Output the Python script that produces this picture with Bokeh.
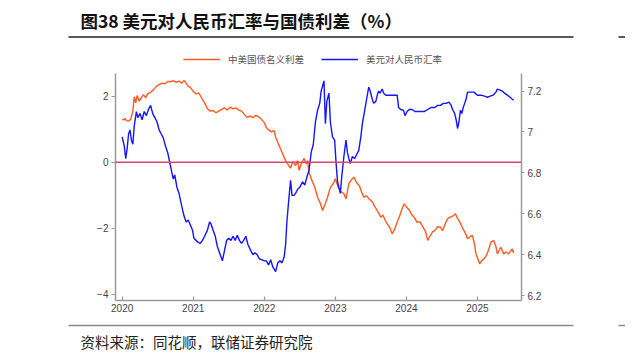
from bokeh.plotting import figure
from bokeh.models import (Range1d, LinearAxis, FixedTicker, Legend, LegendItem, Span)
from bokeh.layouts import column
from bokeh.core.properties import value
from bokeh.embed import file_html
from bokeh.resources import INLINE

# ---------------- data ----------------
title_text = "图38 美元对人民币汇率与国债利差（%）"
source_text = "资料来源：同花顺，联储证券研究院"
series_names = ["中美国债名义利差", "美元对人民币汇率"]
year_ticks = [2020, 2021, 2022, 2023, 2024, 2025]
left_ticks = [-4, -2, 0, 2]
right_ticks = [6.2, 6.4, 6.6, 6.8, 7.0, 7.2]

spread_t = [2020.00, 2020.02, 2020.04, 2020.06, 2020.09, 2020.12, 2020.15, 2020.17, 2020.19, 2020.21,
            2020.24, 2020.27, 2020.30, 2020.33, 2020.36, 2020.40, 2020.44, 2020.48, 2020.52, 2020.56,
            2020.60, 2020.64, 2020.68, 2020.72, 2020.76, 2020.80, 2020.84, 2020.87, 2020.90, 2020.93,
            2020.96, 2021.00, 2021.04, 2021.08, 2021.12, 2021.16, 2021.20, 2021.24, 2021.28, 2021.32,
            2021.36, 2021.40, 2021.44, 2021.48, 2021.52, 2021.56, 2021.60, 2021.64, 2021.68, 2021.72,
            2021.76, 2021.80, 2021.84, 2021.88, 2021.92, 2021.96, 2022.00, 2022.03, 2022.06, 2022.10,
            2022.14, 2022.16, 2022.20, 2022.23, 2022.27, 2022.30, 2022.33, 2022.37, 2022.40, 2022.44,
            2022.47, 2022.49, 2022.52, 2022.56, 2022.59, 2022.61, 2022.63, 2022.67, 2022.71, 2022.75,
            2022.79, 2022.82, 2022.85, 2022.89, 2022.93, 2022.97, 2023.00, 2023.04, 2023.08, 2023.12,
            2023.15, 2023.19, 2023.22, 2023.26, 2023.30, 2023.34, 2023.37, 2023.40, 2023.44, 2023.48,
            2023.52, 2023.56, 2023.60, 2023.64, 2023.67, 2023.70, 2023.74, 2023.77, 2023.80, 2023.83,
            2023.87, 2023.91, 2023.94, 2023.97, 2024.01, 2024.04, 2024.08, 2024.12, 2024.15, 2024.19,
            2024.23, 2024.27, 2024.30, 2024.33, 2024.37, 2024.40, 2024.44, 2024.48, 2024.51, 2024.54,
            2024.57, 2024.60, 2024.64, 2024.67, 2024.69, 2024.72, 2024.75, 2024.78, 2024.81, 2024.84,
            2024.86, 2024.90, 2024.93, 2024.96, 2024.98, 2025.01, 2025.03, 2025.06, 2025.09, 2025.12,
            2025.15, 2025.19, 2025.23, 2025.26, 2025.28, 2025.31, 2025.33, 2025.37, 2025.40, 2025.44,
            2025.47, 2025.49, 2025.51]
spread_v = [1.31, 1.28, 1.33, 1.26, 1.25, 1.30, 1.55, 1.98, 1.80, 2.02,
            1.85, 1.96, 2.05, 1.95, 2.08, 2.12, 2.20, 2.30, 2.35, 2.40,
            2.38, 2.45, 2.44, 2.47, 2.42, 2.46, 2.40, 2.48, 2.40, 2.30,
            2.27, 2.15, 2.07, 2.10, 1.94, 1.80, 1.62, 1.55, 1.57, 1.50,
            1.55, 1.60, 1.65, 1.58, 1.67, 1.62, 1.65, 1.58, 1.55, 1.45,
            1.36, 1.40, 1.35, 1.42, 1.38, 1.30, 1.20, 1.05, 0.98, 0.92,
            0.96, 0.76, 0.55, 0.40, 0.20, 0.05, -0.05, -0.18, 0.02, -0.10,
            0.05, -0.25, -0.05, 0.12, -0.05, 0.05, -0.30, -0.55, -0.75, -1.06,
            -1.25, -1.46, -1.30, -1.06, -0.76, -0.65, -0.50, -0.76, -0.90, -0.95,
            -1.11, -0.65, -0.55, -0.45, -0.62, -0.72, -0.90, -1.06, -1.02, -1.12,
            -1.20, -1.36, -1.50, -1.67, -1.60, -1.75, -1.90, -2.00, -2.17, -2.05,
            -1.82, -1.60, -1.40, -1.26, -1.38, -1.45, -1.60, -1.70, -1.82, -1.80,
            -1.95, -2.10, -2.37, -2.25, -2.10, -2.07, -1.95, -1.97, -2.07, -1.90,
            -1.75, -1.67, -1.65, -1.60, -1.56, -1.70, -1.80, -1.95, -2.07, -2.20,
            -2.32, -2.25, -2.22, -2.50, -2.78, -2.95, -3.08, -2.98, -2.93, -2.85,
            -2.70, -2.42, -2.37, -2.55, -2.78, -2.65, -2.58, -2.78, -2.72, -2.78,
            -2.68, -2.63, -2.76]

fx_t = [2020.00, 2020.03, 2020.05, 2020.07, 2020.09, 2020.11, 2020.13, 2020.15, 2020.17, 2020.20,
        2020.22, 2020.25, 2020.28, 2020.31, 2020.34, 2020.37, 2020.40, 2020.43, 2020.46, 2020.49,
        2020.52, 2020.55, 2020.58, 2020.61, 2020.64, 2020.67, 2020.70, 2020.72, 2020.74, 2020.77,
        2020.80, 2020.82, 2020.85, 2020.87, 2020.90, 2020.93, 2020.96, 2020.99, 2021.01, 2021.04,
        2021.07, 2021.10, 2021.13, 2021.16, 2021.20, 2021.23, 2021.25, 2021.28, 2021.31, 2021.34,
        2021.37, 2021.41, 2021.44, 2021.47, 2021.50, 2021.53, 2021.56, 2021.59, 2021.62, 2021.65,
        2021.68, 2021.71, 2021.74, 2021.77, 2021.81, 2021.84, 2021.87, 2021.90, 2021.93, 2021.97,
        2022.00, 2022.03, 2022.06, 2022.09, 2022.12, 2022.16, 2022.19, 2022.22, 2022.25, 2022.28,
        2022.30, 2022.32, 2022.34, 2022.37, 2022.39, 2022.42, 2022.44, 2022.47, 2022.50, 2022.54,
        2022.57, 2022.60, 2022.63, 2022.66, 2022.69, 2022.72, 2022.75, 2022.78, 2022.80, 2022.84,
        2022.86, 2022.88, 2022.91, 2022.93, 2022.96, 2022.99, 2023.01, 2023.03, 2023.05, 2023.07,
        2023.09, 2023.12, 2023.15, 2023.17, 2023.19, 2023.21, 2023.24, 2023.27, 2023.30, 2023.33,
        2023.36, 2023.38, 2023.41, 2023.43, 2023.45, 2023.47, 2023.49, 2023.52, 2023.54, 2023.57,
        2023.59, 2023.61, 2023.63, 2023.66, 2023.68, 2023.71, 2023.75, 2023.79, 2023.83, 2023.87,
        2023.89, 2023.92, 2023.96, 2023.98, 2024.01, 2024.04, 2024.08, 2024.12, 2024.16, 2024.20,
        2024.25, 2024.30, 2024.35, 2024.40, 2024.44, 2024.48, 2024.52, 2024.56, 2024.60, 2024.63,
        2024.65, 2024.68, 2024.70, 2024.72, 2024.74, 2024.76, 2024.78, 2024.80, 2024.82, 2024.84,
        2024.86, 2024.90, 2024.95, 2025.00, 2025.05, 2025.10, 2025.14, 2025.18, 2025.22, 2025.26,
        2025.28, 2025.32, 2025.35, 2025.38, 2025.42, 2025.46, 2025.49, 2025.51]
fx_v = [6.976, 6.93, 6.87, 6.92, 6.99, 7.01, 6.96, 6.94, 7.03, 7.10,
        7.07, 7.09, 7.06, 7.10, 7.08, 7.11, 7.13, 7.09, 7.07, 7.05,
        7.01, 6.99, 6.97, 6.93, 6.90, 6.85, 6.80, 6.77, 6.79, 6.73,
        6.70, 6.667, 6.62, 6.59, 6.56, 6.57, 6.545, 6.52, 6.48, 6.47,
        6.46, 6.455, 6.47, 6.49, 6.52, 6.56, 6.55, 6.52, 6.49, 6.44,
        6.41, 6.37, 6.42, 6.47, 6.48, 6.47, 6.49, 6.47, 6.495, 6.47,
        6.455, 6.47, 6.49, 6.45, 6.42, 6.40, 6.41, 6.40, 6.38, 6.375,
        6.37, 6.37, 6.35, 6.375, 6.34, 6.317, 6.36, 6.37, 6.36, 6.39,
        6.45, 6.57, 6.65, 6.764, 6.69, 6.69, 6.70, 6.72, 6.73, 6.756,
        6.74, 6.78, 6.813, 6.90, 6.94, 7.05, 7.106, 7.14, 7.20, 7.25,
        7.04, 7.15, 7.19, 7.05, 6.976, 6.96, 6.85, 6.76, 6.73, 6.70,
        6.78, 6.88, 6.96, 6.90, 6.87, 6.846, 6.88, 6.87, 6.89, 6.91,
        6.98, 7.04, 7.10, 7.14, 7.18, 7.22, 7.20, 7.16, 7.14, 7.15,
        7.18, 7.20, 7.19, 7.21, 7.19, 7.18, 7.18, 7.18, 7.18, 7.18,
        7.12, 7.11, 7.106, 7.08, 7.10, 7.11, 7.11, 7.10, 7.10, 7.10,
        7.10, 7.11, 7.12, 7.12, 7.13, 7.13, 7.14, 7.14, 7.146, 7.13,
        7.11, 7.09, 7.06, 7.017, 7.05, 7.106, 7.09, 7.12, 7.14, 7.16,
        7.195, 7.195, 7.195, 7.18, 7.18, 7.175, 7.17, 7.175, 7.18, 7.195,
        7.21, 7.205, 7.20, 7.19, 7.18, 7.17, 7.16, 7.155]

ORANGE = "#ff5a1f"
BLUE = "#1414ff"
AXIS = "#9a9a9a"
W = 625


def blank(height):
    f = figure(width=W, height=height, output_backend="svg", toolbar_location=None,
               x_range=Range1d(0, W), y_range=Range1d(height, 0),
               min_border=0, min_border_left=0, min_border_right=0,
               min_border_top=0, min_border_bottom=0, frame_align=False)
    f.axis.visible = False
    f.grid.visible = False
    f.outline_line_color = None
    f.title.visible = False
    return f


# ---------------- header: title, rule and legend ----------------
HEAD_H = 70
head = blank(HEAD_H)
head.text(x=[80], y=[20], text=[title_text], text_font=value("Noto Sans CJK SC"),
          text_font_style="bold", text_font_size="17.5px", text_color="#111111",
          text_baseline="middle")
head.segment(x0=[68, 618], y0=[36.5, 36.5], x1=[573, W], y1=[36.5, 36.5],
             line_color="#222222", line_width=1.3)
# legend swatch renderers: same styles as the chart series, placed off-canvas
k1 = head.line(x=[-50, -40], y=[-50, -50], line_color=ORANGE, line_width=1.4)
k2 = head.line(x=[-50, -40], y=[-50, -50], line_color=BLUE, line_width=1.4)
legend = Legend(items=[LegendItem(label=series_names[0], renderers=[k1]),
                       LegendItem(label=series_names[1], renderers=[k2])],
                orientation="horizontal", location=(183, 4),
                glyph_width=37, glyph_height=12, label_height=12, label_standoff=8,
                spacing=17, padding=0, margin=0, border_line_color=None,
                background_fill_alpha=0, label_text_font="Noto Sans CJK SC",
                label_text_font_size="9.5px", label_text_color="#555555")
head.add_layout(legend, "center")

# ---------------- main chart ----------------
p = figure(width=W, height=252, output_backend="svg", toolbar_location=None,
           x_range=Range1d(2019.906, 2025.62), y_range=Range1d(-4.19, 2.69),
           min_border_left=115, min_border_right=W - 521, min_border_top=3, min_border_bottom=22,
           frame_align=False)
p.extra_y_ranges = {"fx": Range1d(6.176, 7.286)}
p.outline_line_color = None
p.grid.visible = False
p.title.visible = False

p.add_layout(Span(location=0, dimension="width", line_color="#d9486a", line_width=1.3))

p.line(spread_t, spread_v, line_color=ORANGE, line_width=1.4)
p.line(fx_t, fx_v, line_color=BLUE, line_width=1.4, y_range_name="fx")

xa = p.xaxis[0]
xa.ticker = FixedTicker(ticks=year_ticks)
xa.major_label_overrides = {y: str(y) for y in year_ticks}
ya = p.yaxis[0]
ya.ticker = FixedTicker(ticks=left_ticks)
ya.major_label_overrides = {v: str(v).replace("-", "\u2212") for v in left_ticks}
ra = LinearAxis(y_range_name="fx", ticker=FixedTicker(ticks=right_ticks))
ra.major_label_overrides = {v: ("7" if v == 7.0 else f"{v:.1f}") for v in right_ticks}
p.add_layout(ra, "right")

for ax in (xa, ya, ra):
    ax.axis_line_color = AXIS
    ax.axis_line_width = 1.5
    ax.major_tick_line_color = AXIS
    ax.major_tick_line_width = 1.2
    ax.minor_tick_line_color = None
    ax.major_label_text_color = "#444444"
    ax.major_label_text_font = "Liberation Sans"
    ax.major_label_text_font_size = "10px"
xa.major_tick_in = 4
xa.major_tick_out = 0
xa.major_label_standoff = 3
ya.major_tick_in = 0
ya.major_tick_out = 4
ya.major_label_standoff = 3
ra.major_tick_in = 0
ra.major_tick_out = 3
ra.major_label_standoff = 3

# ---------------- footer: rule + source ----------------
foot = blank(30)
foot.segment(x0=[68, 618], y0=[3, 3], x1=[573, W], y1=[3, 3],
             line_color="#8a8a8a", line_width=1.5)
foot.text(x=[80], y=[19], text=[source_text], text_font=value("Noto Sans CJK SC"),
          text_font_size="14.5px", text_color="#222222", text_baseline="middle")

layout = column(head, p, foot, spacing=0)
open("out.html", "w").write(file_html(layout, INLINE))
